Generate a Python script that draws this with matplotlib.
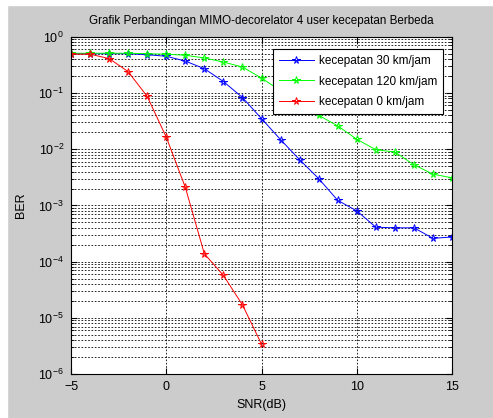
import matplotlib
matplotlib.use("Agg")
import matplotlib.pyplot as plt
from matplotlib.patches import Rectangle

plt.rcParams['font.family'] = ['Liberation Sans', 'DejaVu Sans']
plt.rcParams['mathtext.default'] = 'regular'

# SNR in dB
snr = [-5, -4, -3, -2, -1, 0, 1, 2, 3, 4, 5, 6, 7, 8, 9, 10, 11, 12, 13, 14, 15]
snr_0 = [-5, -4, -3, -2, -1, 0, 1, 2, 3, 4, 5]

# BER per speed
ber_30 = [0.50, 0.50, 0.50, 0.50, 0.48, 0.45, 0.37, 0.27, 0.16, 0.083, 0.035,
          0.0148, 0.0065, 0.0030, 0.00123, 0.00080, 0.00041, 0.00040, 0.00040,
          0.00026, 0.000275]
ber_120 = [0.51, 0.51, 0.51, 0.51, 0.50, 0.49, 0.47, 0.42, 0.355, 0.29, 0.184,
           0.11, 0.061, 0.040, 0.026, 0.015, 0.0098, 0.0089, 0.0053, 0.0036,
           0.0031]
ber_0 = [0.49, 0.49, 0.41, 0.24, 0.087, 0.0164, 0.0021, 0.000138, 5.7e-05,
         1.7e-05, 3.4e-06]

fig = plt.figure(figsize=(4.93, 4.18), dpi=100, facecolor='#cccccc')
ax = fig.add_axes([0.144, 0.105, 0.773, 0.807])

style = dict(lw=0.7, marker='*', ms=5.5, mfc='none', mew=0.7)
ax.semilogy(snr, ber_30, color='#0000ff', label='kecepatan 30 km/jam', **style)
ax.semilogy(snr, ber_120, color='#00ff00', label='kecepatan 120 km/jam', **style)
ax.semilogy(snr_0, ber_0, color='#ff0000', label='kecepatan 0 km/jam', **style)

ax.set_xlim(-5, 15)
ax.set_ylim(1e-6, 1)
ax.set_xticks([-5, 0, 5, 10, 15])
ax.grid(True, which='major', color='black', ls=(0, (2, 2)), lw=0.6)
ax.grid(True, which='minor', axis='y', color='black', ls=(0, (2, 2)), lw=0.6)
ax.tick_params(direction='in', top=True, right=True, labelsize=9, length=4,
               pad=5)
ax.tick_params(which='minor', direction='in', right=True, length=2)

ax.set_title('Grafik Perbandingan MIMO-decorelator 4 user kecepatan Berbeda',
             fontsize=8.4, pad=9)
ax.set_xlabel('SNR(dB)', fontsize=9, labelpad=4)
ax.set_ylabel('BER', fontsize=9, labelpad=8)

leg = ax.legend(loc='upper right', fontsize=8.5, fancybox=False,
                framealpha=1, edgecolor='black', borderpad=0.5,
                labelspacing=0.75, handlelength=3.0, handletextpad=0.4,
                bbox_to_anchor=(0.992, 0.982))
leg.get_frame().set_linewidth(0.8)

# white strip at top and left edge of the picture
fig.patches.append(Rectangle((0, 1 - 5 / 418), 1, 5 / 418,
                             transform=fig.transFigure, color='white'))
fig.patches.append(Rectangle((0, 0), 7 / 493, 1,
                             transform=fig.transFigure, color='white'))

fig.savefig('out.png', dpi=100, facecolor=fig.get_facecolor())
